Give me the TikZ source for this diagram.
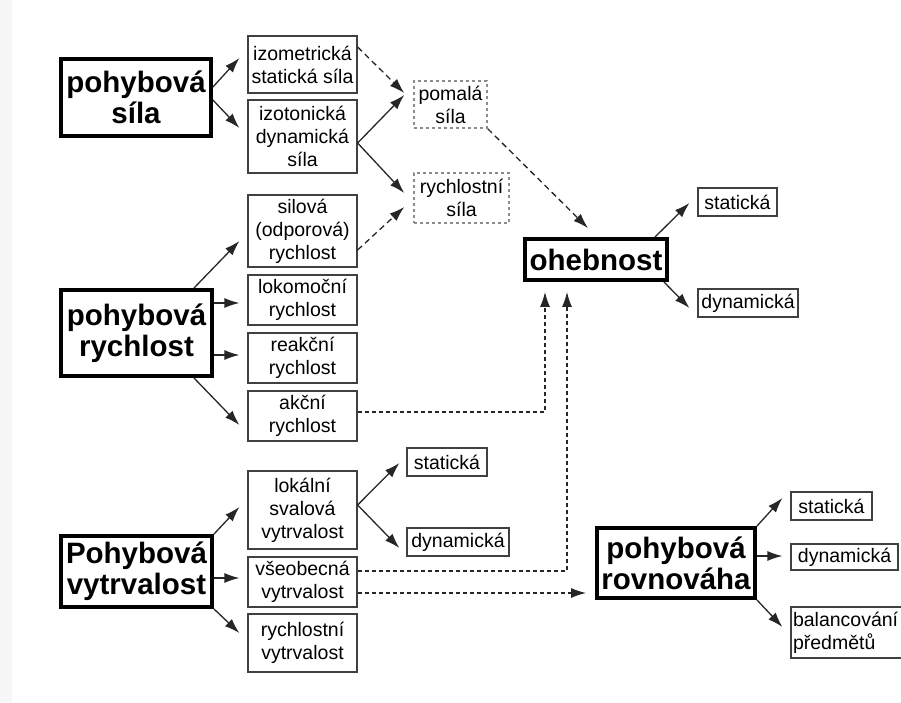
\documentclass[tikz,border=0pt]{standalone}
\usepackage{fontspec}
\setmainfont{Liberation Sans}
\usetikzlibrary{arrows.meta,calc}
\tikzset{
  big/.style={draw=black, line width=3.8pt, inner sep=0pt, align=center,
    font=\bfseries\fontsize{29.5}{31}\selectfont},
  small/.style={draw=black!75, line width=1.2pt, inner sep=0pt, align=center,
    font=\fontsize{19.5}{23}\selectfont},
  dbox/.style={small, draw=black!45, line width=1.5pt, dash pattern=on 3pt off 3pt},
  arr/.style={line width=1.3pt, black!85, -{Latex[length=15pt,width=10pt]}},
  darr/.style={arr, dash pattern=on 6pt off 4pt},
  oarr/.style={arr, dash pattern=on 4pt off 3pt}
}
\begin{document}
\begin{tikzpicture}[x=1pt,y=-1pt]
\useasboundingbox (0,0) rectangle (901,702);
\fill[black!3] (0,0) rectangle (12,702);
% nodes
\node[big, minimum width=150pt, minimum height=77pt] (ps) at (136,97.5) {pohybová\\síla};
\node[small, minimum width=109pt, minimum height=57pt] (izom) at (302.5,64.5) {izometrická\\statická síla};
\node[small, minimum width=109pt, minimum height=73pt] (izot) at (302.5,136.5) {izotonická\\dynamická\\síla};
\node[small, minimum width=109pt, minimum height=72pt] (silova) at (302.5,231) {silová\\(odporová)\\rychlost};
\node[dbox, minimum width=73pt, minimum height=47pt] (pomala) at (450.5,104.5) {pomalá\\síla};
\node[dbox, minimum width=95pt, minimum height=50pt] (rychs) at (461.5,198) {rychlostní\\síla};
\node[big, minimum width=142pt, minimum height=41pt] (oheb) at (596,259.5) {ohebnost};
\node[small, minimum width=79pt, minimum height=28pt] (stat1) at (737.5,202) {statická};
\node[small, minimum width=100pt, minimum height=28pt] (dyn1) at (748,303) {dynamická};
\node[big, minimum width=151pt, minimum height=86pt] (pr) at (136.5,333) {pohybová\\rychlost};
\node[small, minimum width=109pt, minimum height=50pt] (lok) at (302.5,300) {lokomoční\\rychlost};
\node[small, minimum width=109pt, minimum height=50pt] (reak) at (302.5,358) {reakční\\rychlost};
\node[small, minimum width=109pt, minimum height=50pt] (akc) at (302.5,416) {akční\\rychlost};
\node[big, minimum width=151pt, minimum height=71pt] (pv) at (136.5,571.5) {Pohybová\\vytrvalost};
\node[small, minimum width=109pt, minimum height=78pt] (lokal) at (302.5,510) {lokální\\svalová\\vytrvalost};
\node[small, minimum width=109pt, minimum height=50pt] (vseo) at (302.5,582) {všeobecná\\vytrvalost};
\node[small, minimum width=109pt, minimum height=58pt] (rychv) at (302.5,643) {rychlostní\\vytrvalost};
\node[small, minimum width=80pt, minimum height=28pt] (stat2) at (447,462) {statická};
\node[small, minimum width=102pt, minimum height=28pt] (dyn2) at (458,542) {dynamická};
\node[big, minimum width=158pt, minimum height=70pt] (prov) at (676,563) {pohybová\\rovnováha};
\node[small, minimum width=81pt, minimum height=28pt] (stat3) at (831.5,506) {statická};
\node[small, minimum width=107pt, minimum height=26pt] (dyn3) at (844.5,557) {dynamická};
\node[small, align=left, minimum width=113pt, minimum height=51pt, text width=109pt] (bal) at (847.5,632.5) {balancování\\předmětů};
% connectors
\draw[arr] ($(ps.east)+(0,-10.5)$) -- ($(izom.west)+(-8,-6.5)$);
\draw[arr] ($(ps.east)+(0,2.5)$) -- ($(izot.west)+(-8,-8.5)$);
\draw[darr] ($(izom.east)+(0,-17.5)$) -- ($(pomala.west)+(-9,-11.5)$);
\draw[arr] ($(izot.east)+(0,6.5)$) -- ($(pomala.west)+(-9,-9.5)$);
\draw[arr] ($(izot.east)+(0,6.5)$) -- ($(rychs.west)+(-9,-5)$);
\draw[darr] ($(silova.east)+(0,19)$) -- ($(rychs.west)+(-9,9)$);
\draw[darr] (pomala.south east) -- ($(oheb.north)+(-8,-9)$);
\draw[arr] ($(oheb.north east)+(-14,0)$) -- ($(stat1.west)+(-8,1)$);
\draw[arr] ($(oheb.south east)+(-5,0)$) -- ($(dyn1.west)+(-8,5)$);
\draw[arr] ($(pr.north east)+(-20,0)$) -- ($(silova.west)+(-8,10)$);
\draw[arr] ($(pr.east)+(0,-30)$) -- ($(lok.west)+(-8,3)$);
\draw[arr] ($(pr.east)+(0,22)$) -- ($(reak.west)+(-8,-3)$);
\draw[arr] ($(pr.south east)+(-20,0)$) -- ($(akc.west)+(-8,9)$);
\draw[oarr] ($(akc.east)+(0,-4)$) -| ($(oheb.south)+(-51,10)$);
\draw[oarr] ($(vseo.east)+(0,-11)$) -| ($(oheb.south)+(-29,10)$);
\draw[oarr] ($(vseo.east)+(0,11)$) -- ($(prov.west)+(-9,30)$);
\draw[arr] (pv.north east) -- ($(lokal.west)+(-8,-3)$);
\draw[arr] ($(pv.east)+(0,6.5)$) -- ($(vseo.west)+(-8,-4)$);
\draw[arr] (pv.south east) -- ($(rychv.west)+(-8,-10)$);
\draw[arr] ($(lokal.east)+(0,-5)$) -- ($(stat2.west)+(-7,1)$);
\draw[arr] ($(lokal.east)+(0,-5)$) -- ($(dyn2.west)+(-7,6)$);
\draw[arr] (prov.north east) -- ($(stat3.west)+(-8,-8)$);
\draw[arr] ($(prov.east)+(0,-7)$) -- ($(dyn3.west)+(-8,-1)$);
\draw[arr] (prov.south east) -- ($(bal.west)+(-8,-5.5)$);
\end{tikzpicture}
\end{document}
